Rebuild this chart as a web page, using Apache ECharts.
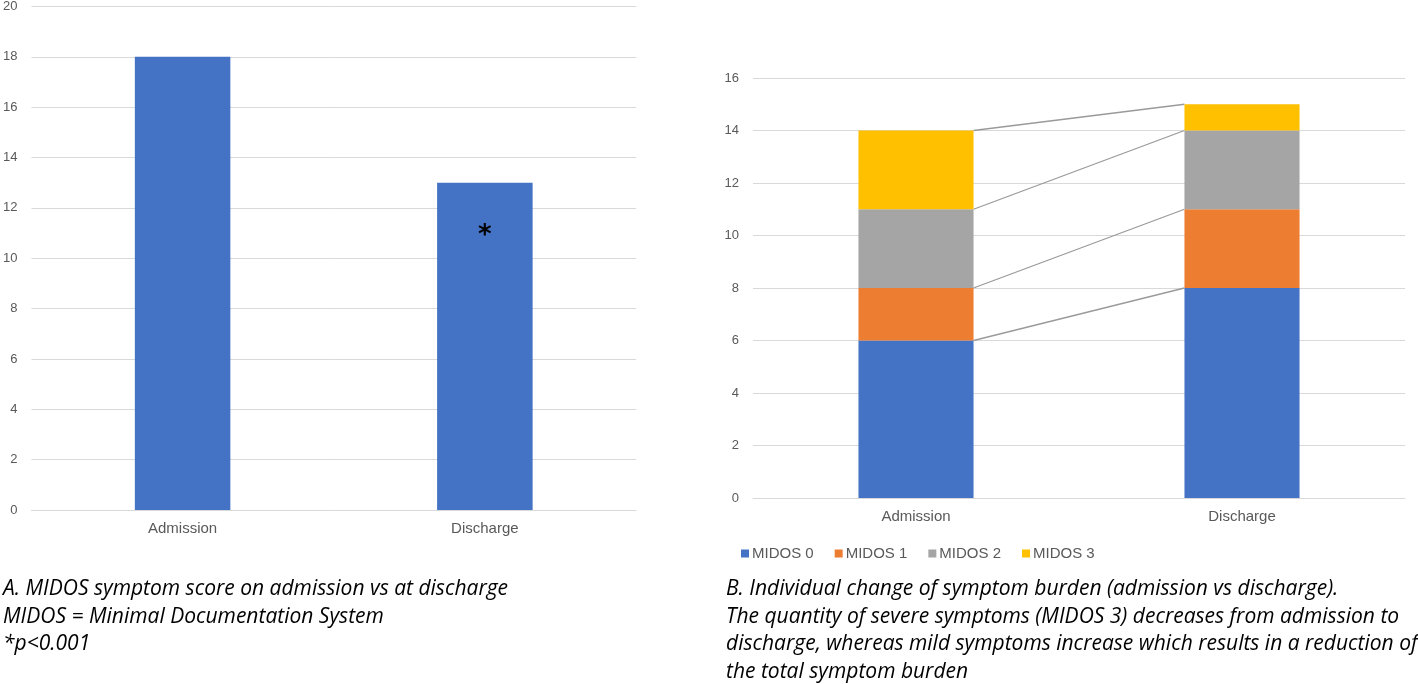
<!DOCTYPE html>
<html>
<head>
<meta charset="utf-8">
<script src="https://cdn.jsdelivr.net/npm/echarts@6/dist/echarts.min.js"></script>
<style>
html,body{margin:0;padding:0;background:#fff;}
#c{width:1418px;height:684px;}
</style>
</head>
<body>
<div id="c"></div>
<script>
// ---- data ----
const categories = ['Admission', 'Discharge'];
const scoreValues = [18, 13];
const seriesNames = ['MIDOS 0', 'MIDOS 1', 'MIDOS 2', 'MIDOS 3'];
const midos0 = [6, 8];
const midos1 = [2, 3];
const midos2 = [3, 3];
const midos3 = [3, 1];
const stackValues = [midos0, midos1, midos2, midos3];
const colors = ['#4472C4', '#ED7D31', '#A5A5A5', '#FFC000'];
const captionA = [
  'A. MIDOS symptom score on admission vs at discharge',
  'MIDOS = Minimal Documentation System',
  '*p<0.001'
];
const captionB = [
  'B. Individual change of symptom burden (admission vs discharge).',
  'The quantity of severe symptoms (MIDOS 3) decreases from admission to',
  'discharge, whereas mild symptoms increase which results in a reduction of',
  'the total symptom burden'
];

// connectors between cumulative stack tops
const connectors = [];
let cumA = 0, cumD = 0;
stackValues.forEach(v => {
  cumA += v[0]; cumD += v[1];
  connectors.push([0, cumA, 1, cumD]);
});

const chart = echarts.init(document.getElementById('c'), null, {renderer: 'canvas'});
const axisText = {color: '#595959', fontSize: 13, fontFamily: 'Liberation Sans'};
const catText = {color: '#595959', fontSize: 15, fontFamily: 'Liberation Sans'};
const BARW2 = 0.353;

const series = [
  {
    type: 'bar', xAxisIndex: 0, yAxisIndex: 0,
    barWidth: '31.6%',
    itemStyle: {color: '#4472C4'},
    data: scoreValues.map((v, i) => i === 1 ? {
      value: v,
      label: {show: true, formatter: '*', position: ['50%', 54], align: 'center', verticalAlign: 'middle',
        color: '#000', fontSize: 26, fontWeight: 'bold', fontFamily: 'DejaVu Sans'}
    } : v)
  }
];
stackValues.forEach((vals, k) => {
  series.push({
    name: seriesNames[k], type: 'bar', stack: 'total', xAxisIndex: 1, yAxisIndex: 1,
    barWidth: (BARW2 * 100) + '%',
    itemStyle: {color: colors[k]},
    data: vals
  });
});
series.push({
  type: 'custom', xAxisIndex: 1, yAxisIndex: 1,
  encode: {x: [0, 2], y: [1, 3]},
  silent: true, z: 1,
  renderItem: function (params, api) {
    const p0 = api.coord([api.value(0), api.value(1)]);
    const p1 = api.coord([api.value(2), api.value(3)]);
    const band = api.size([1, 0])[0];
    const half = band * BARW2 / 2;
    return {
      type: 'line',
      shape: {x1: p0[0] + half, y1: p0[1], x2: p1[0] - half, y2: p1[1]},
      style: {stroke: '#9a9a9a', lineWidth: 1.3}
    };
  },
  data: connectors
});

const capStyle = {fill: '#000', fontSize: 21, fontStyle: 'italic', fontFamily: 'Open Sans'};
const graphics = [];
captionA.forEach((t, i) => graphics.push({type: 'text', left: 3, top: 579 + i * 27.4, style: Object.assign({text: t}, capStyle)}));
captionB.forEach((t, i) => graphics.push({type: 'text', left: 726, top: 579 + i * 27.4, style: Object.assign({text: t}, capStyle)}));

chart.setOption({
  animation: false,
  backgroundColor: '#fff',
  grid: [
    {left: 28, right: 782, top: 5, bottom: 174, containLabel: false},
    {left: 753, right: 13, top: 78, bottom: 186, containLabel: false}
  ],
  xAxis: [
    {type: 'category', gridIndex: 0, data: categories, axisTick: {show: false},
      axisLine: {lineStyle: {color: '#d9d9d9'}}, axisLabel: Object.assign({margin: 11}, catText)},
    {type: 'category', gridIndex: 1, data: categories, axisTick: {show: false},
      axisLine: {lineStyle: {color: '#d9d9d9'}}, axisLabel: Object.assign({margin: 11}, catText)}
  ],
  yAxis: [
    {type: 'value', gridIndex: 0, min: 0, max: 20, interval: 2, axisLine: {show: false}, axisTick: {show: false},
      splitLine: {lineStyle: {color: '#d9d9d9'}}, axisLabel: Object.assign({margin: 14}, axisText)},
    {type: 'value', gridIndex: 1, min: 0, max: 16, interval: 2, axisLine: {show: false}, axisTick: {show: false},
      splitLine: {lineStyle: {color: '#d9d9d9'}}, axisLabel: Object.assign({margin: 14}, axisText)}
  ],
  legend: {
    data: seriesNames, left: 736, top: 541, itemWidth: 8, itemHeight: 8, itemGap: 21, icon: 'rect',
    textStyle: {color: '#595959', fontSize: 15, fontFamily: 'Liberation Sans', padding: [0, 0, 0, -2]}
  },
  graphic: graphics,
  series: series
});
</script>
</body>
</html>
